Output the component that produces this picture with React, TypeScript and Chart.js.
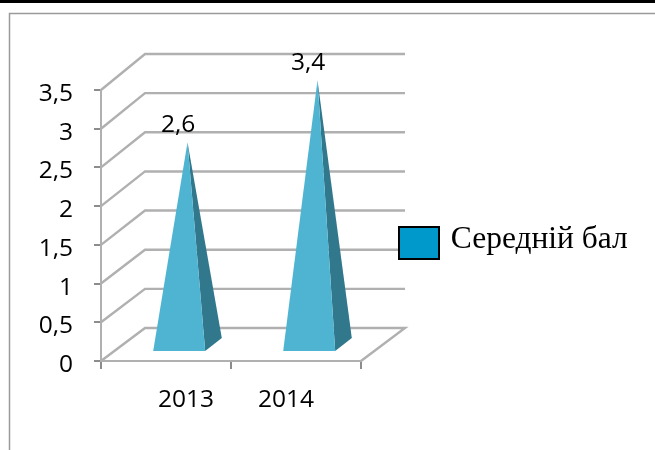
import React, { useEffect, useRef } from "react";
import { Chart, registerables } from "chart.js";

Chart.register(...registerables);

const categories = ["2013", "2014"];
const averageScore = [2.6, 3.4];
const seriesName = "Середній бал";
const yMax = 3.5;
const yStep = 0.5;

const sansFont = '"Open Sans", sans-serif';
const labelSize = 24.5;
const depthX = 44;
const depthY = 33;
const gridColor = "#b0b0b0";
const axisColor = "#8c8c8c";
const frontColor = "#4fb4d2";
const sideColor = "#31788d";
const legendColor = "#0099cc";
const categoryLabelX = [186, 286];

const fmt = (v: number) => String(v).replace(".", ",");

const scene = {
  id: "scene",
  beforeDraw(chart: any) {
    const { ctx, width, height } = chart;
    ctx.save();
    ctx.fillStyle = "#ffffff";
    ctx.fillRect(0, 0, width, height);
    ctx.fillStyle = "#000000";
    ctx.fillRect(0, 0, width, 3);
    ctx.strokeStyle = "#9a9a9a";
    ctx.lineWidth = 1.5;
    ctx.beginPath();
    ctx.moveTo(9.5, height + 2);
    ctx.lineTo(9.5, 13.5);
    ctx.lineTo(width + 2, 13.5);
    ctx.stroke();
    ctx.restore();
  },
  afterLayout(chart: any) {
    const l = chart.legend;
    l.left = 399;
    l.right = 650;
    l.top = 224;
    l.bottom = 270;
  },
  beforeDatasetsDraw(chart: any) {
    const { ctx, chartArea, scales } = chart;
    const { left, right } = chartArea;
    const y = scales.y;
    ctx.save();
    ctx.lineWidth = 2.4;
    ctx.strokeStyle = gridColor;
    y.ticks.forEach((t: any) => {
      const py = y.getPixelForValue(t.value);
      const by = py - depthY - 3 * (t.value / yMax);
      ctx.beginPath();
      ctx.moveTo(left, py);
      ctx.lineTo(left + depthX, by);
      ctx.lineTo(right + depthX, by);
      if (t.value === 0) ctx.lineTo(right, py);
      ctx.stroke();
    });
    const meta = chart.getDatasetMeta(0);
    const zero = y.getPixelForValue(0);
    meta.data.forEach((bar: any) => {
      const hw = bar.width / 2;
      const fx = bar.x + depthX * 0.3;
      const fy = zero - depthY * 0.3;
      const bx = bar.x + depthX * 0.7;
      const by = zero - depthY * 0.7;
      const ax = bar.x + depthX * 0.5 - 0.5;
      const ay = bar.y - depthY * 0.5 - 1;
      ctx.fillStyle = sideColor;
      ctx.beginPath();
      ctx.moveTo(fx + hw, fy);
      ctx.lineTo(bx + hw - 1, by);
      ctx.lineTo(ax, ay);
      ctx.closePath();
      ctx.fill();
      ctx.fillStyle = frontColor;
      ctx.beginPath();
      ctx.moveTo(fx - hw, fy);
      ctx.lineTo(fx + hw, fy);
      ctx.lineTo(ax, ay);
      ctx.closePath();
      ctx.fill();
    });
    ctx.restore();
  },
  afterDatasetsDraw(chart: any) {
    const { ctx, scales } = chart;
    const meta = chart.getDatasetMeta(0);
    ctx.save();
    ctx.fillStyle = "#000000";
    ctx.font = `${labelSize}px ${sansFont}`;
    ctx.textAlign = "center";
    ctx.textBaseline = "middle";
    meta.data.forEach((bar: any, i: number) => {
      ctx.fillText(fmt(averageScore[i]), bar.x + depthX * 0.3 - 1, bar.y - depthY * 0.5 - 18);
    });
    categories.forEach((c, i) => {
      ctx.fillText(c, categoryLabelX[i], scales.y.bottom + 39);
    });
    ctx.restore();
  },
  afterDraw(chart: any) {
    const { ctx, legend } = chart;
    ctx.save();
    ctx.fillStyle = legendColor;
    ctx.strokeStyle = "#000000";
    ctx.lineWidth = 2;
    ctx.fillRect(legend.left, 227, 40, 32);
    ctx.strokeRect(legend.left, 227, 40, 32);
    ctx.restore();
  },
};

export default function App() {
  const ref = useRef<HTMLCanvasElement>(null);
  useEffect(() => {
    const chart = new Chart(ref.current!, {
      type: "bar",
      data: {
        labels: categories,
        datasets: [
          {
            label: seriesName,
            data: averageScore,
            backgroundColor: "transparent",
            categoryPercentage: 1,
            barPercentage: 0.4,
          },
        ],
      },
      options: {
        responsive: false,
        animation: false,
        layout: {
          autoPadding: false,
          padding: { left: 0, top: 90, right: 294, bottom: 0 },
        },
        scales: {
          x: {
            afterFit: (s: any) => {
              s.height = 89;
            },
            grid: { drawOnChartArea: false, color: axisColor, lineWidth: 2, tickLength: 8 },
            border: { color: gridColor, width: 2 },
            ticks: { display: false },
          },
          y: {
            min: 0,
            max: yMax,
            afterFit: (s: any) => {
              s.width = 101;
            },
            grid: { drawOnChartArea: false, color: axisColor, lineWidth: 2, tickLength: 7 },
            border: { color: gridColor, width: 2 },
            ticks: {
              stepSize: yStep,
              padding: 21,
              labelOffset: 4,
              color: "#000000",
              font: { family: sansFont, size: labelSize },
              callback: (v: any) => fmt(Number(v)),
            },
          },
        },
        plugins: {
          tooltip: { enabled: false },
          legend: {
            position: "chartArea" as any,
            align: "start",
            labels: {
              padding: 0,
              boxWidth: 36,
              boxHeight: 20,
              color: "#000000",
              font: { family: '"Liberation Serif", serif', size: 31.5 },
              generateLabels: () => [
                {
                  text: seriesName,
                  fillStyle: legendColor,
                  strokeStyle: legendColor,
                  lineWidth: 0,
                  datasetIndex: 0,
                },
              ],
            },
          },
        },
      },
      plugins: [scene],
    });
    return () => chart.destroy();
  }, []);
  return (
    <div style={{ position: "fixed", left: 0, top: 0, width: 655, height: 450, background: "#fff" }}>
      <canvas ref={ref} width={655} height={450} style={{ display: "block", filter: "blur(0.5px)" }} />
    </div>
  );
}
